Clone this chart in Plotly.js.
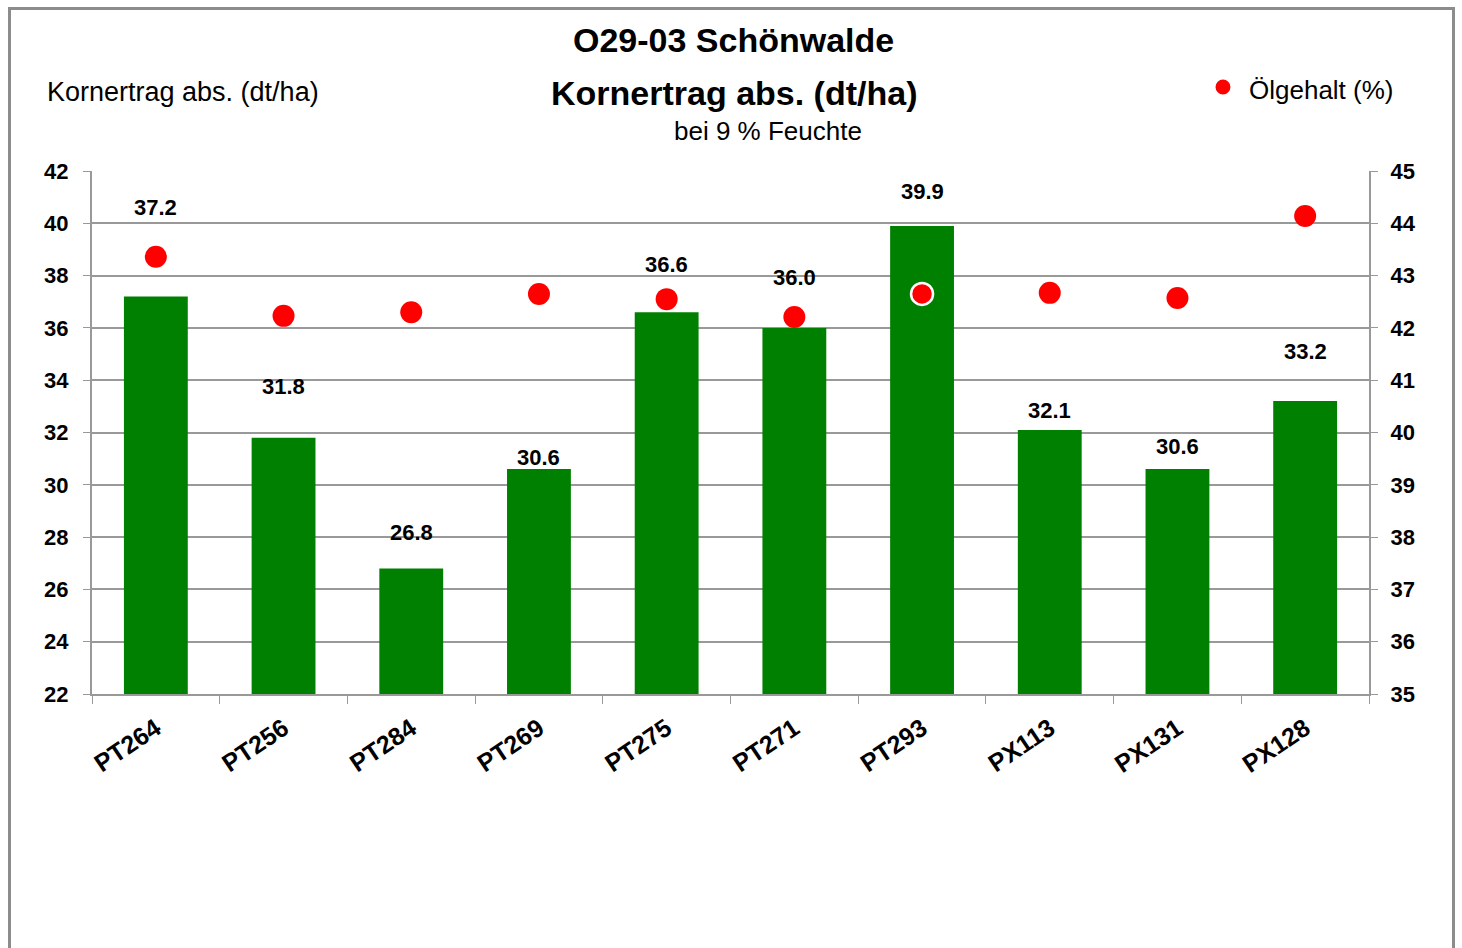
<!DOCTYPE html>
<html><head><meta charset="utf-8">
<script src="https://cdn.plot.ly/plotly-3.0.1.min.js"></script>
<style>
html,body{margin:0;padding:0;background:#fff;overflow:hidden}
#frame{position:absolute;left:8px;top:7px;width:1447px;height:960px;border:3px solid #8c8c8c;box-sizing:border-box}
#chart{position:absolute;left:0;top:0;width:1462px;height:948px}
</style></head>
<body>
<div id="frame"></div>
<div id="chart"></div>
<script>
const categories = ["PT264","PT256","PT284","PT269","PT275","PT271","PT293","PX113","PX131","PX128"];
const yieldValues = [37.2, 31.8, 26.8, 30.6, 36.6, 36.0, 39.9, 32.1, 30.6, 33.2];
const oilValues = [43.36, 42.23, 42.30, 42.65, 42.55, 42.21, 42.65, 42.67, 42.57, 44.14];
const labelShiftPx = [89, 51, 36, 12, 48, 50, 34, 19, 23, 50];
const markerOutline = ["rgba(0,0,0,0)","rgba(0,0,0,0)","rgba(0,0,0,0)","rgba(0,0,0,0)","rgba(0,0,0,0)","rgba(0,0,0,0)","#ffffff","rgba(0,0,0,0)","rgba(0,0,0,0)","rgba(0,0,0,0)"];

const FONT = "Liberation Sans, Arial, sans-serif";

const bars = {
  type: "bar", x: categories, y: yieldValues, base: 0,
  marker: {color: "#008000"}, width: 0.5, showlegend: false, hoverinfo: "x+y"
};
const dots = {
  type: "scatter", mode: "markers", x: categories, y: oilValues, yaxis: "y2",
  name: "Ölgehalt (%)", showlegend: false,
  marker: {color: "#ff0000", size: 22, line: {color: markerOutline, width: 2.5}}
};

const annotations = categories.map((c, i) => ({
  x: c, y: yieldValues[i], xref: "x", yref: "y", yanchor: "middle",
  yshift: labelShiftPx[i], text: yieldValues[i].toFixed(1), showarrow: false,
  font: {family: FONT, size: 22, color: "#000", weight: "bold"}
}));
annotations.push(
  {xref: "paper", yref: "paper", x: 0.502, y: 1.2505, xanchor: "center", yanchor: "middle", showarrow: false,
   text: "<b>O29-03 Schönwalde</b>", font: {family: FONT, size: 34, color: "#000"}},
  {xref: "paper", yref: "paper", x: 0.503, y: 1.149, xanchor: "center", yanchor: "middle", showarrow: false,
   text: "<b>Kornertrag abs. (dt/ha)</b>", font: {family: FONT, size: 34, color: "#000"}},
  {xref: "paper", yref: "paper", x: 0.529, y: 1.0765, xanchor: "center", yanchor: "middle", showarrow: false,
   text: "bei 9 % Feuchte", font: {family: FONT, size: 26, color: "#000"}},
  {xref: "paper", yref: "paper", x: -0.0365, y: 1.151, xanchor: "left", yanchor: "middle", showarrow: false,
   text: "Kornertrag abs. (dt/ha)", font: {family: FONT, size: 27, color: "#000"}},
  {xref: "paper", yref: "paper", x: 0.9045, y: 1.155, xanchor: "left", yanchor: "middle", showarrow: false,
   text: "Ölgehalt (%)", font: {family: FONT, size: 26, color: "#000"}}
);

const layout = {
  width: 1462, height: 948,
  margin: {l: 92, r: 93, t: 171, b: 254},
  paper_bgcolor: "rgba(0,0,0,0)", plot_bgcolor: "rgba(0,0,0,0)",
  font: {family: FONT, color: "#000"},
  xaxis: {
    type: "category", tickson: "boundaries", ticks: "outside", ticklen: 8, tickcolor: "#999",
    showline: true, linecolor: "#999", linewidth: 2, showgrid: false,
    tickangle: -34, ticklabelstandoff: 8,
    tickfont: {family: FONT, size: 25, color: "#000", weight: "bold"},
    range: [-0.5, 9.5]
  },
  yaxis: {
    range: [22, 42], dtick: 2, tick0: 22, showgrid: true, gridcolor: "#999", gridwidth: 1.5,
    showline: true, linecolor: "#999", linewidth: 2, ticks: "outside", ticklen: 7, tickcolor: "#999",
    ticklabelstandoff: 10,
    tickfont: {family: FONT, size: 22, color: "#000", weight: "bold"}, zeroline: false
  },
  yaxis2: {
    overlaying: "y", side: "right", range: [35, 45], dtick: 1, tick0: 35, showgrid: false,
    showline: true, linecolor: "#999", linewidth: 2, ticks: "outside", ticklen: 7, tickcolor: "#999",
    ticklabelstandoff: 8,
    tickfont: {family: FONT, size: 22, color: "#000", weight: "bold"}, zeroline: false
  },
  shapes: [
    {type: "circle", xref: "paper", yref: "paper", x0: 0.8798, x1: 0.8915, y0: 1.1463, y1: 1.1750,
     fillcolor: "#ff0000", line: {width: 0}}
  ],
  annotations: annotations,
  showlegend: false
};

Plotly.newPlot("chart", [bars, dots], layout, {displayModeBar: false, responsive: false});
</script>
</body></html>
